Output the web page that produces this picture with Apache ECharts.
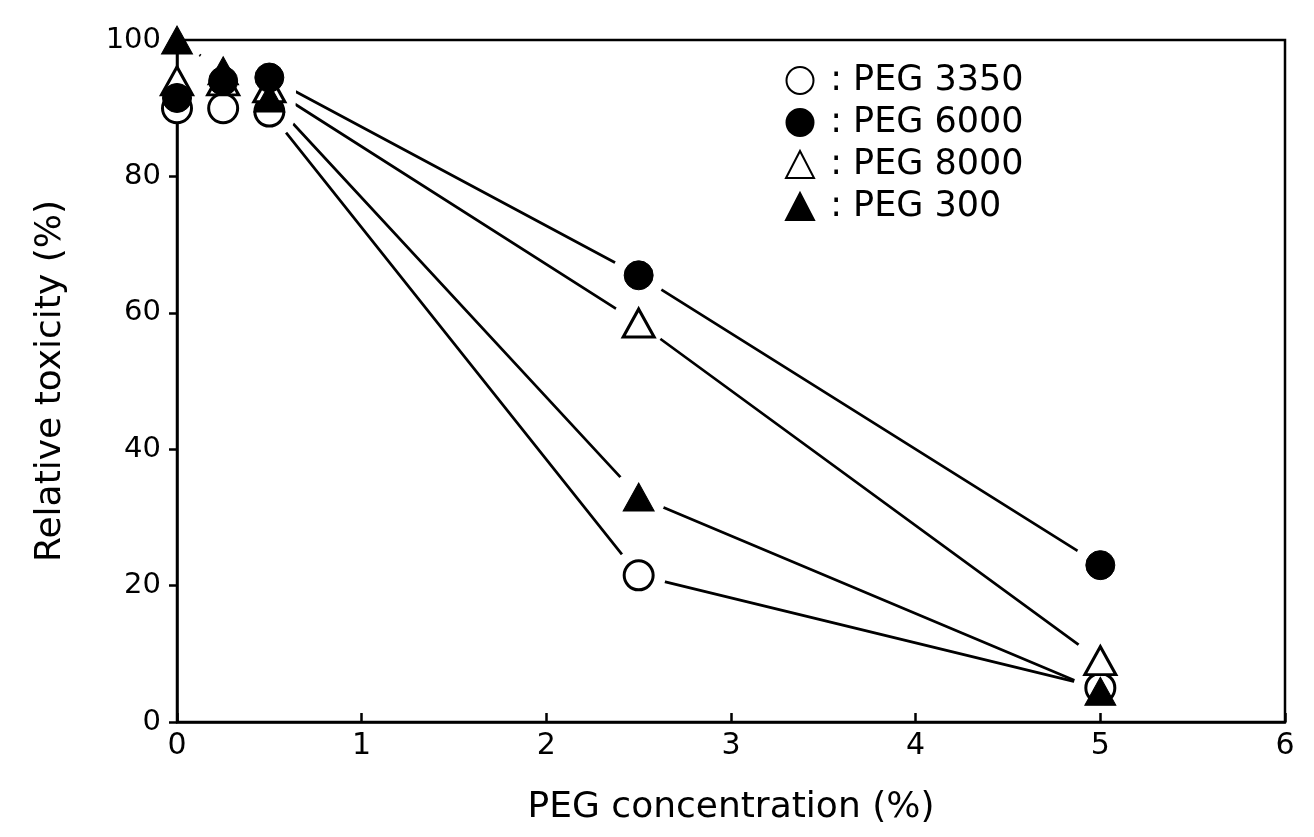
<!DOCTYPE html>
<html>
<head>
<meta charset="utf-8">
<script src="https://cdn.jsdelivr.net/npm/echarts@6/dist/echarts.min.js"></script>
<style>
html,body{margin:0;padding:0;background:#fff;}
#chart{width:1314px;height:837px;}
</style>
</head>
<body>
<div id="chart"></div>
<script>
// PEG concentration (%)
const concentrations = [0, 0.25, 0.5, 2.5, 5];
// Relative toxicity (%)
const peg3350 = [90, 90, 89.5, 21.5, 5];
const peg6000 = [91.5, 94, 94.5, 65.5, 23];
const peg8000 = [94, 94, 93, 58.5, 9];
const peg300  = [100, 95.5, 91.5, 33, 4.5];

const seriesNames = ['PEG 3350', 'PEG 6000', 'PEG 8000', 'PEG 300'];
const seriesValues = [peg3350, peg6000, peg8000, peg300];
const symbols = ['circle', 'circle', 'triangle', 'triangle'];
const filled = [false, true, false, true];
const markerZ = [5, 6, 5, 7];

const xTicks = [0, 1, 2, 3, 4, 5, 6];
const yTicks = [0, 20, 40, 60, 80, 100];

const FONT = 'DejaVu Sans';
const pairs = vals => concentrations.map((c, i) => [c, vals[i]]);

const series = [];
seriesValues.forEach((vals, k) => {
  series.push({
    name: 'line-' + seriesNames[k], type: 'line', data: pairs(vals),
    symbol: 'none', z: 1, silent: true, clip: false,
    lineStyle: { color: '#000', width: 2.7 }
  });
});
seriesValues.forEach((vals, k) => {
  series.push({
    name: 'halo-' + seriesNames[k], type: 'scatter', data: pairs(vals),
    symbol: 'circle', symbolSize: 54, z: 2, silent: true, clip: false,
    itemStyle: { color: '#fff', opacity: 1 }
  });
});
seriesValues.forEach((vals, k) => {
  series.push({
    name: seriesNames[k], type: 'scatter', data: pairs(vals),
    symbol: symbols[k], symbolSize: symbols[k] === 'circle' ? 29 : [31, 28],
    z: markerZ[k], clip: false,
    itemStyle: filled[k]
      ? { color: '#000', borderColor: '#000', borderWidth: 1, opacity: 1 }
      : { color: '#fff', borderColor: '#000', borderWidth: 3, opacity: 1 }
  });
});

const chart = echarts.init(document.getElementById('chart'), null, { renderer: 'canvas' });
chart.setOption({
  animation: false,
  backgroundColor: '#fff',
  grid: { left: 177, right: 29, top: 40, bottom: 115, show: true,
          borderColor: '#000', borderWidth: 2.5, z: 3 },
  legend: {
    data: seriesNames, orient: 'vertical', left: 780, top: 58,
    itemWidth: 28, itemHeight: 27, itemGap: 7,
    textStyle: { fontFamily: FONT, fontSize: 35, lineHeight: 34, color: '#000' },
    formatter: name => ' : ' + name,
    selectedMode: false
  },
  xAxis: {
    type: 'value', min: 0, max: 6, interval: 1, z: 3,
    name: 'PEG concentration (%)', nameLocation: 'middle', nameGap: 68,
    nameTextStyle: { fontFamily: FONT, fontSize: 36, color: '#000' },
    axisLine: { lineStyle: { color: '#000', width: 2.5 } },
    axisTick: { show: true, inside: true, length: 9, lineStyle: { color: '#000', width: 2.5 } },
    axisLabel: { fontFamily: FONT, fontSize: 30, color: '#000', margin: 9,
                 formatter: v => xTicks.includes(v) ? String(v) : '' },
    splitLine: { show: false }
  },
  yAxis: {
    type: 'value', min: 0, max: 100, interval: 20, z: 3,
    name: 'Relative toxicity (%)', nameLocation: 'middle', nameGap: 108,
    nameTextStyle: { fontFamily: FONT, fontSize: 36, color: '#000' },
    axisLine: { show: true, lineStyle: { color: '#000', width: 2.5 } },
    axisTick: { show: true, inside: false, length: 8, lineStyle: { color: '#000', width: 2.5 } },
    axisLabel: { fontFamily: FONT, fontSize: 29, color: '#000', margin: 16,
                 formatter: v => yTicks.includes(v) ? String(v) : '' },
    splitLine: { show: false }
  },
  series: series
});
</script>
</body>
</html>
